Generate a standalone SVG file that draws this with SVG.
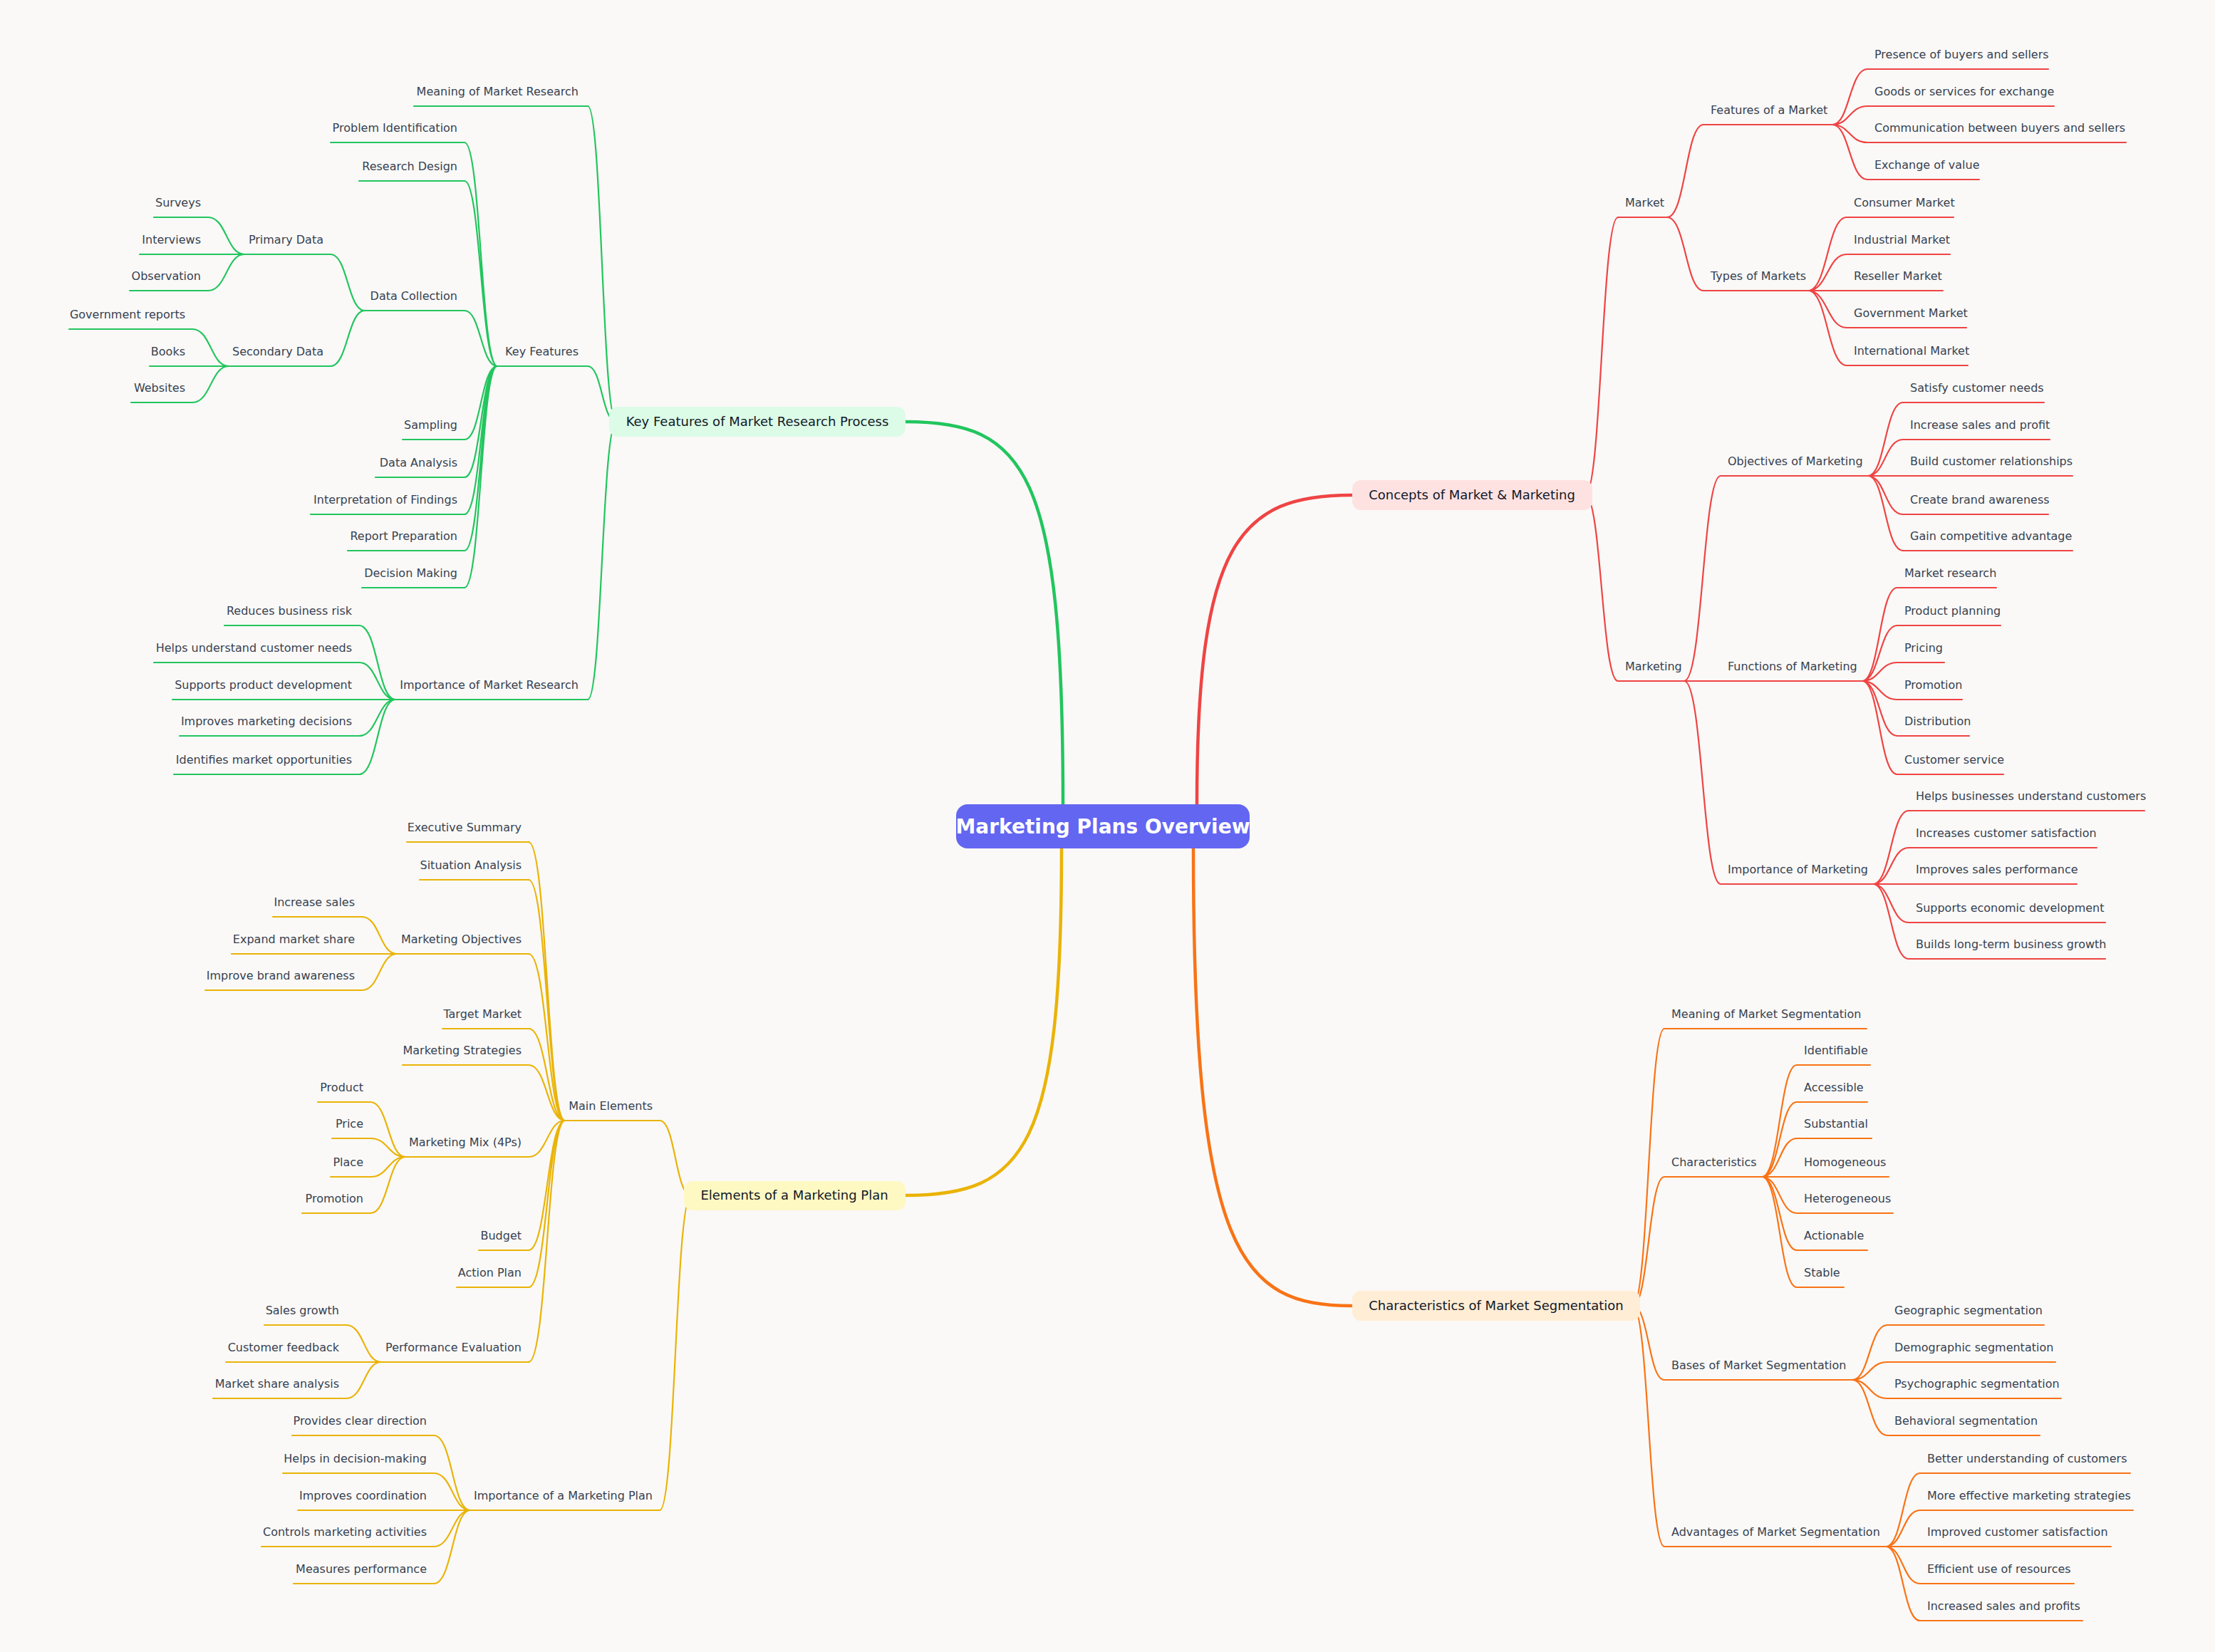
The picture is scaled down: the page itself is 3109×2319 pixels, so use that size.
<svg xmlns="http://www.w3.org/2000/svg" width="3109" height="2319" viewBox="0 0 3109 2319">
<style>
text{font-family:"DejaVu Sans","Liberation Sans",sans-serif;font-size:16px;fill:#374151}
.l{text-anchor:end}
.p{font-size:18px;fill:#111827;text-anchor:middle}
path{fill:none;stroke-width:2.2;stroke-linecap:round}
.G{stroke:#22c55e}.R{stroke:#ef4444}.Y{stroke:#eab308}.O{stroke:#f97316}
.M{stroke-width:4.5}
</style>
<rect width="3109" height="2319" fill="#faf9f7"/>
<g id="connectors">
<path class="G M" d="M1492 1129C1492 660 1440 592 1271 592"/>
<path class="R M" d="M1680 1129C1680 760 1740 695 1898 695"/>
<path class="Y M" d="M1490 1191C1490 1610 1440 1678 1271 1678"/>
<path class="O M" d="M1675 1191C1675 1760 1740 1833 1898 1833"/>
<!-- red -->
<path class="R" d="M2225 695C2248 695 2248 305 2271 305M2225 695C2248 695 2248 956 2271 956"/>
<path class="R" d="M2340 305C2366 305 2366 175 2391 175M2340 305C2366 305 2366 408 2391 408"/>
<path class="R" d="M2572 175C2596 175 2596 97 2621 97M2572 175C2596 175 2596 149 2621 149M2572 175C2596 175 2596 200 2621 200M2572 175C2596 175 2596 252 2621 252"/>
<path class="R" d="M2538 408C2565 408 2565 305 2592 305M2538 408C2565 408 2565 357 2592 357M2538 408C2565 408 2565 408 2592 408M2538 408C2565 408 2565 460 2592 460M2538 408C2565 408 2565 513 2592 513"/>
<path class="R" d="M2364 956C2390 956 2390 668 2415 668M2364 956C2390 956 2390 956 2415 956M2364 956C2390 956 2390 1241 2415 1241"/>
<path class="R" d="M2622 668C2646 668 2646 565 2671 565M2622 668C2646 668 2646 617 2671 617M2622 668C2646 668 2646 668 2671 668M2622 668C2646 668 2646 722 2671 722M2622 668C2646 668 2646 773 2671 773"/>
<path class="R" d="M2614 956C2638 956 2638 825 2663 825M2614 956C2638 956 2638 878 2663 878M2614 956C2638 956 2638 930 2663 930M2614 956C2638 956 2638 982 2663 982M2614 956C2638 956 2638 1033 2663 1033M2614 956C2638 956 2638 1087 2663 1087"/>
<path class="R" d="M2629 1241C2654 1241 2654 1138 2679 1138M2629 1241C2654 1241 2654 1190 2679 1190M2629 1241C2654 1241 2654 1241 2679 1241M2629 1241C2654 1241 2654 1295 2679 1295M2629 1241C2654 1241 2654 1346 2679 1346"/>
<!-- orange -->
<path class="O" d="M2292 1833C2314 1833 2314 1444 2336 1444M2292 1833C2314 1833 2314 1652 2336 1652M2292 1833C2314 1833 2314 1937 2336 1937M2292 1833C2314 1833 2314 2171 2336 2171"/>
<path class="O" d="M2473 1652C2498 1652 2498 1495 2522 1495M2473 1652C2498 1652 2498 1547 2522 1547M2473 1652C2498 1652 2498 1598 2522 1598M2473 1652C2498 1652 2498 1652 2522 1652M2473 1652C2498 1652 2498 1703 2522 1703M2473 1652C2498 1652 2498 1755 2522 1755M2473 1652C2498 1652 2498 1807 2522 1807"/>
<path class="O" d="M2600 1937C2624 1937 2624 1860 2649 1860M2600 1937C2624 1937 2624 1912 2649 1912M2600 1937C2624 1937 2624 1963 2649 1963M2600 1937C2624 1937 2624 2015 2649 2015"/>
<path class="O" d="M2647 2171C2671 2171 2671 2068 2695 2068M2647 2171C2671 2171 2671 2120 2695 2120M2647 2171C2671 2171 2671 2171 2695 2171M2647 2171C2671 2171 2671 2223 2695 2223M2647 2171C2671 2171 2671 2275 2695 2275"/>
<!-- green -->
<path class="G" d="M865 592C845 592 845 149 825 149M865 592C845 592 845 514 825 514M865 592C845 592 845 982 825 982"/>
<path class="G" d="M698 514C675 514 675 200 652 200M698 514C675 514 675 254 652 254M698 514C675 514 675 436 652 436M698 514C675 514 675 617 652 617M698 514C675 514 675 670 652 670M698 514C675 514 675 722 652 722M698 514C675 514 675 773 652 773M698 514C675 514 675 825 652 825"/>
<path class="G" d="M512 436C488 436 488 357 464 357M512 436C488 436 488 514 464 514"/>
<path class="G" d="M343 357C318 357 318 305 292 305M343 357C318 357 318 357 292 357M343 357C318 357 318 408 292 408"/>
<path class="G" d="M321 514C296 514 296 462 270 462M321 514C296 514 296 514 270 514M321 514C296 514 296 565 270 565"/>
<path class="G" d="M555 982C530 982 530 878 504 878M555 982C530 982 530 930 504 930M555 982C530 982 530 982 504 982M555 982C530 982 530 1033 504 1033M555 982C530 982 530 1087 504 1087"/>
<!-- yellow -->
<path class="Y" d="M970 1678C948 1678 948 1573 926 1573M970 1678C948 1678 948 2120 926 2120"/>
<path class="Y" d="M793 1573C768 1573 768 1182 742 1182M793 1573C768 1573 768 1235 742 1235M793 1573C768 1573 768 1339 742 1339M793 1573C768 1573 768 1444 742 1444M793 1573C768 1573 768 1495 742 1495M793 1573C768 1573 768 1624 742 1624M793 1573C768 1573 768 1755 742 1755M793 1573C768 1573 768 1807 742 1807M793 1573C768 1573 768 1912 742 1912"/>
<path class="Y" d="M557 1339C533 1339 533 1287 508 1287M557 1339C533 1339 533 1339 508 1339M557 1339C533 1339 533 1390 508 1390"/>
<path class="Y" d="M569 1624C545 1624 545 1547 520 1547M569 1624C545 1624 545 1598 520 1598M569 1624C545 1624 545 1652 520 1652M569 1624C545 1624 545 1703 520 1703"/>
<path class="Y" d="M535 1912C511 1912 511 1860 486 1860M535 1912C511 1912 511 1912 486 1912M535 1912C511 1912 511 1963 486 1963"/>
<path class="Y" d="M660 2120C635 2120 635 2015 609 2015M660 2120C635 2120 635 2068 609 2068M660 2120C635 2120 635 2120 609 2120M660 2120C635 2120 635 2171 609 2171M660 2120C635 2120 635 2223 609 2223"/>
</g>
<g id="root"><rect x="1342" y="1129" width="412" height="62" rx="16" fill="#6366f1"/><text x="1548" y="1170" text-anchor="middle" style="font-size:28px;font-weight:bold;fill:#fff">Marketing Plans Overview</text></g>
<g id="b1"><rect x="855" y="571" width="416" height="42" rx="12" fill="#dcfce7"/><text class="p" x="1063" y="598">Key Features of Market Research Process</text></g>
<g id="b2"><rect x="1898" y="674" width="337" height="42" rx="12" fill="#fee2e2"/><text class="p" x="2066" y="701">Concepts of Market &amp; Marketing</text></g>
<g id="b3"><rect x="960" y="1658" width="311" height="41" rx="12" fill="#fef9c3"/><text class="p" x="1115" y="1684">Elements of a Marketing Plan</text></g>
<g id="b4"><rect x="1898" y="1812" width="404" height="42" rx="12" fill="#ffedd5"/><text class="p" x="2100" y="1839">Characteristics of Market Segmentation</text></g>
<!-- red nodes -->
<g id="r1"><path class="R" d="M2271 305H2340"/><text x="2281" y="290">Market</text></g>
<g id="r11"><path class="R" d="M2391 175H2572"/><text x="2401" y="160">Features of a Market</text></g>
<g id="r111"><path class="R" d="M2621 97H2875"/><text x="2631" y="82">Presence of buyers and sellers</text></g>
<g id="r112"><path class="R" d="M2621 149H2883"/><text x="2631" y="134">Goods or services for exchange</text></g>
<g id="r113"><path class="R" d="M2621 200H2984"/><text x="2631" y="185">Communication between buyers and sellers</text></g>
<g id="r114"><path class="R" d="M2621 252H2778"/><text x="2631" y="237">Exchange of value</text></g>
<g id="r12"><path class="R" d="M2391 408H2538"/><text x="2401" y="393">Types of Markets</text></g>
<g id="r121"><path class="R" d="M2592 305H2742"/><text x="2602" y="290">Consumer Market</text></g>
<g id="r122"><path class="R" d="M2592 357H2737"/><text x="2602" y="342">Industrial Market</text></g>
<g id="r123"><path class="R" d="M2592 408H2727"/><text x="2602" y="393">Reseller Market</text></g>
<g id="r124"><path class="R" d="M2592 460H2760"/><text x="2602" y="445">Government Market</text></g>
<g id="r125"><path class="R" d="M2592 513H2762"/><text x="2602" y="498">International Market</text></g>
<g id="r2"><path class="R" d="M2271 956H2364"/><text x="2281" y="941">Marketing</text></g>
<g id="r21"><path class="R" d="M2415 668H2622"/><text x="2425" y="653">Objectives of Marketing</text></g>
<g id="r211"><path class="R" d="M2671 565H2869"/><text x="2681" y="550">Satisfy customer needs</text></g>
<g id="r212"><path class="R" d="M2671 617H2877"/><text x="2681" y="602">Increase sales and profit</text></g>
<g id="r213"><path class="R" d="M2671 668H2909"/><text x="2681" y="653">Build customer relationships</text></g>
<g id="r214"><path class="R" d="M2671 722H2875"/><text x="2681" y="707">Create brand awareness</text></g>
<g id="r215"><path class="R" d="M2671 773H2909"/><text x="2681" y="758">Gain competitive advantage</text></g>
<g id="r22"><path class="R" d="M2415 956H2614"/><text x="2425" y="941">Functions of Marketing</text></g>
<g id="r221"><path class="R" d="M2663 825H2802"/><text x="2673" y="810">Market research</text></g>
<g id="r222"><path class="R" d="M2663 878H2808"/><text x="2673" y="863">Product planning</text></g>
<g id="r223"><path class="R" d="M2663 930H2729"/><text x="2673" y="915">Pricing</text></g>
<g id="r224"><path class="R" d="M2663 982H2754"/><text x="2673" y="967">Promotion</text></g>
<g id="r225"><path class="R" d="M2663 1033H2764"/><text x="2673" y="1018">Distribution</text></g>
<g id="r226"><path class="R" d="M2663 1087H2812"/><text x="2673" y="1072">Customer service</text></g>
<g id="r23"><path class="R" d="M2415 1241H2629"/><text x="2425" y="1226">Importance of Marketing</text></g>
<g id="r231"><path class="R" d="M2679 1138H3010"/><text x="2689" y="1123">Helps businesses understand customers</text></g>
<g id="r232"><path class="R" d="M2679 1190H2943"/><text x="2689" y="1175">Increases customer satisfaction</text></g>
<g id="r233"><path class="R" d="M2679 1241H2915"/><text x="2689" y="1226">Improves sales performance</text></g>
<g id="r234"><path class="R" d="M2679 1295H2955"/><text x="2689" y="1280">Supports economic development</text></g>
<g id="r235"><path class="R" d="M2679 1346H2955"/><text x="2689" y="1331">Builds long-term business growth</text></g>
<!-- orange nodes -->
<g id="o1"><path class="O" d="M2336 1444H2620"/><text x="2346" y="1429">Meaning of Market Segmentation</text></g>
<g id="o2"><path class="O" d="M2336 1652H2473"/><text x="2346" y="1637">Characteristics</text></g>
<g id="o21"><path class="O" d="M2522 1495H2625"/><text x="2532" y="1480">Identifiable</text></g>
<g id="o22"><path class="O" d="M2522 1547H2621"/><text x="2532" y="1532">Accessible</text></g>
<g id="o23"><path class="O" d="M2522 1598H2627"/><text x="2532" y="1583">Substantial</text></g>
<g id="o24"><path class="O" d="M2522 1652H2651"/><text x="2532" y="1637">Homogeneous</text></g>
<g id="o25"><path class="O" d="M2522 1703H2657"/><text x="2532" y="1688">Heterogeneous</text></g>
<g id="o26"><path class="O" d="M2522 1755H2621"/><text x="2532" y="1740">Actionable</text></g>
<g id="o27"><path class="O" d="M2522 1807H2588"/><text x="2532" y="1792">Stable</text></g>
<g id="o3"><path class="O" d="M2336 1937H2600"/><text x="2346" y="1922">Bases of Market Segmentation</text></g>
<g id="o31"><path class="O" d="M2649 1860H2869"/><text x="2659" y="1845">Geographic segmentation</text></g>
<g id="o32"><path class="O" d="M2649 1912H2885"/><text x="2659" y="1897">Demographic segmentation</text></g>
<g id="o33"><path class="O" d="M2649 1963H2893"/><text x="2659" y="1948">Psychographic segmentation</text></g>
<g id="o34"><path class="O" d="M2649 2015H2863"/><text x="2659" y="2000">Behavioral segmentation</text></g>
<g id="o4"><path class="O" d="M2336 2171H2647"/><text x="2346" y="2156">Advantages of Market Segmentation</text></g>
<g id="o41"><path class="O" d="M2695 2068H2990"/><text x="2705" y="2053">Better understanding of customers</text></g>
<g id="o42"><path class="O" d="M2695 2120H2994"/><text x="2705" y="2105">More effective marketing strategies</text></g>
<g id="o43"><path class="O" d="M2695 2171H2963"/><text x="2705" y="2156">Improved customer satisfaction</text></g>
<g id="o44"><path class="O" d="M2695 2223H2911"/><text x="2705" y="2208">Efficient use of resources</text></g>
<g id="o45"><path class="O" d="M2695 2275H2923"/><text x="2705" y="2260">Increased sales and profits</text></g>
<!-- green nodes -->
<g id="g1"><path class="G" d="M581 149H825"/><text class="l" x="812" y="134">Meaning of Market Research</text></g>
<g id="g2"><path class="G" d="M698 514H825"/><text class="l" x="812" y="499">Key Features</text></g>
<g id="g21"><path class="G" d="M464 200H652"/><text class="l" x="642" y="185">Problem Identification</text></g>
<g id="g22"><path class="G" d="M504 254H652"/><text class="l" x="642" y="239">Research Design</text></g>
<g id="g23"><path class="G" d="M512 436H652"/><text class="l" x="642" y="421">Data Collection</text></g>
<g id="g231"><path class="G" d="M343 357H464"/><text class="l" x="454" y="342">Primary Data</text></g>
<g id="g2311"><path class="G" d="M216 305H292"/><text class="l" x="282" y="290">Surveys</text></g>
<g id="g2312"><path class="G" d="M196 357H292"/><text class="l" x="282" y="342">Interviews</text></g>
<g id="g2313"><path class="G" d="M182 408H292"/><text class="l" x="282" y="393">Observation</text></g>
<g id="g232"><path class="G" d="M321 514H464"/><text class="l" x="454" y="499">Secondary Data</text></g>
<g id="g2321"><path class="G" d="M97 462H270"/><text class="l" x="260" y="447">Government reports</text></g>
<g id="g2322"><path class="G" d="M210 514H270"/><text class="l" x="260" y="499">Books</text></g>
<g id="g2323"><path class="G" d="M184 565H270"/><text class="l" x="260" y="550">Websites</text></g>
<g id="g24"><path class="G" d="M565 617H652"/><text class="l" x="642" y="602">Sampling</text></g>
<g id="g25"><path class="G" d="M527 670H652"/><text class="l" x="642" y="655">Data Analysis</text></g>
<g id="g26"><path class="G" d="M436 722H652"/><text class="l" x="642" y="707">Interpretation of Findings</text></g>
<g id="g27"><path class="G" d="M488 773H652"/><text class="l" x="642" y="758">Report Preparation</text></g>
<g id="g28"><path class="G" d="M508 825H652"/><text class="l" x="642" y="810">Decision Making</text></g>
<g id="g3"><path class="G" d="M555 982H825"/><text class="l" x="812" y="967">Importance of Market Research</text></g>
<g id="g31"><path class="G" d="M315 878H504"/><text class="l" x="494" y="863">Reduces business risk</text></g>
<g id="g32"><path class="G" d="M216 930H504"/><text class="l" x="494" y="915">Helps understand customer needs</text></g>
<g id="g33"><path class="G" d="M242 982H504"/><text class="l" x="494" y="967">Supports product development</text></g>
<g id="g34"><path class="G" d="M252 1033H504"/><text class="l" x="494" y="1018">Improves marketing decisions</text></g>
<g id="g35"><path class="G" d="M244 1087H504"/><text class="l" x="494" y="1072">Identifies market opportunities</text></g>
<!-- yellow nodes -->
<g id="y1"><path class="Y" d="M793 1573H926"/><text class="l" x="916" y="1558">Main Elements</text></g>
<g id="y11"><path class="Y" d="M571 1182H742"/><text class="l" x="732" y="1167">Executive Summary</text></g>
<g id="y12"><path class="Y" d="M589 1235H742"/><text class="l" x="732" y="1220">Situation Analysis</text></g>
<g id="y13"><path class="Y" d="M557 1339H742"/><text class="l" x="732" y="1324">Marketing Objectives</text></g>
<g id="y131"><path class="Y" d="M383 1287H508"/><text class="l" x="498" y="1272">Increase sales</text></g>
<g id="y132"><path class="Y" d="M325 1339H508"/><text class="l" x="498" y="1324">Expand market share</text></g>
<g id="y133"><path class="Y" d="M288 1390H508"/><text class="l" x="498" y="1375">Improve brand awareness</text></g>
<g id="y14"><path class="Y" d="M621 1444H742"/><text class="l" x="732" y="1429">Target Market</text></g>
<g id="y15"><path class="Y" d="M565 1495H742"/><text class="l" x="732" y="1480">Marketing Strategies</text></g>
<g id="y16"><path class="Y" d="M569 1624H742"/><text class="l" x="732" y="1609">Marketing Mix (4Ps)</text></g>
<g id="y161"><path class="Y" d="M446 1547H520"/><text class="l" x="510" y="1532">Product</text></g>
<g id="y162"><path class="Y" d="M466 1598H520"/><text class="l" x="510" y="1583">Price</text></g>
<g id="y163"><path class="Y" d="M464 1652H520"/><text class="l" x="510" y="1637">Place</text></g>
<g id="y164"><path class="Y" d="M424 1703H520"/><text class="l" x="510" y="1688">Promotion</text></g>
<g id="y17"><path class="Y" d="M672 1755H742"/><text class="l" x="732" y="1740">Budget</text></g>
<g id="y18"><path class="Y" d="M641 1807H742"/><text class="l" x="732" y="1792">Action Plan</text></g>
<g id="y19"><path class="Y" d="M535 1912H742"/><text class="l" x="732" y="1897">Performance Evaluation</text></g>
<g id="y191"><path class="Y" d="M371 1860H486"/><text class="l" x="476" y="1845">Sales growth</text></g>
<g id="y192"><path class="Y" d="M317 1912H486"/><text class="l" x="476" y="1897">Customer feedback</text></g>
<g id="y193"><path class="Y" d="M299 1963H486"/><text class="l" x="476" y="1948">Market share analysis</text></g>
<g id="y2"><path class="Y" d="M660 2120H926"/><text class="l" x="916" y="2105">Importance of a Marketing Plan</text></g>
<g id="y21"><path class="Y" d="M410 2015H609"/><text class="l" x="599" y="2000">Provides clear direction</text></g>
<g id="y22"><path class="Y" d="M397 2068H609"/><text class="l" x="599" y="2053">Helps in decision-making</text></g>
<g id="y23"><path class="Y" d="M418 2120H609"/><text class="l" x="599" y="2105">Improves coordination</text></g>
<g id="y24"><path class="Y" d="M367 2171H609"/><text class="l" x="599" y="2156">Controls marketing activities</text></g>
<g id="y25"><path class="Y" d="M412 2223H609"/><text class="l" x="599" y="2208">Measures performance</text></g>
</svg>
